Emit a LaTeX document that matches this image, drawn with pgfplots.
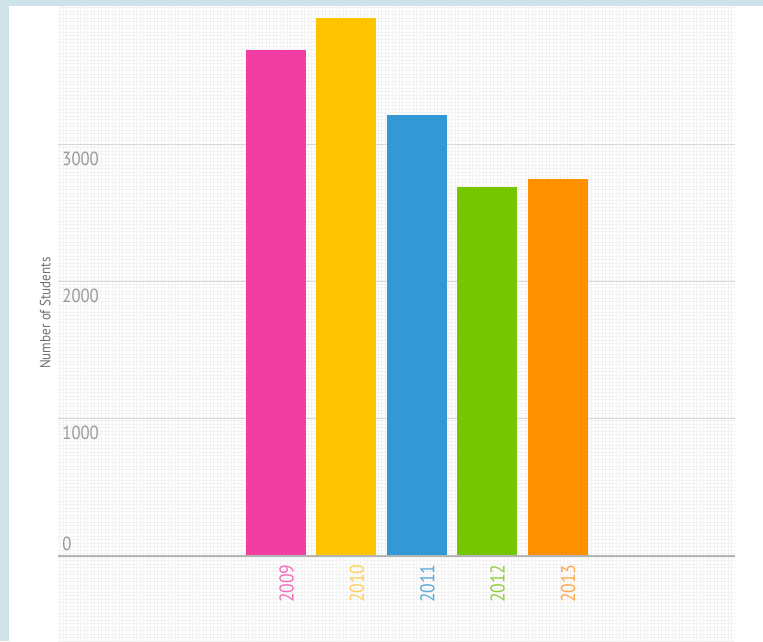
\documentclass[border=0pt]{standalone}
\usepackage{fontspec}
\setmainfont[FakeStretch=0.88]{PT Sans}
\usepackage{pgfplots}
\pgfplotsset{compat=1.18}
\definecolor{bgblue}{HTML}{CFE2EA}
\definecolor{cpink}{HTML}{F23DA3}
\definecolor{cyellow}{HTML}{FFC400}
\definecolor{cblue}{HTML}{3399D4}
\definecolor{cgreen}{HTML}{77C401}
\definecolor{corange}{HTML}{FF9000}
\definecolor{lpink}{HTML}{F46DBA}
\definecolor{lyellow}{HTML}{FFCF5E}
\definecolor{lblue}{HTML}{5DAADB}
\definecolor{lgreen}{HTML}{8FCF3C}
\definecolor{lorange}{HTML}{FFA94D}
\definecolor{gridc}{HTML}{D8D8D8}
\definecolor{zeroc}{HTML}{B4B4B4}
\definecolor{tickc}{HTML}{999999}
\definecolor{labc}{HTML}{707070}
\definecolor{patc}{HTML}{F2F2F2}
\begin{document}
\begin{tikzpicture}
% background and panel (1px = 0.5pt)
\fill[bgblue] (0,0) rectangle (381.5pt,320.5pt);
\fill[white] (4.5pt,0) rectangle (381.5pt,317.5pt);
% faint texture region
\begin{scope}
\clip (29pt,0) rectangle (367.5pt,317.5pt);
\draw[patc, line width=0.25pt, step=1.75pt] (29pt,0) grid (367.5pt,317.5pt);
\end{scope}
\begin{axis}[
  at={(29pt,42.75pt)}, anchor=south west,
  scale only axis,
  width=338.5pt, height=274.75pt,
  xmin=-3.097, xmax=6.52,
  ymin=0, ymax=4008,
  enlargelimits=false,
  clip=false,
  axis line style={draw=none},
  tick style={draw=none},
  ybar, bar width=30pt,
  xtick={0,1,2,3,4},
  xticklabels={\textcolor{lpink}{2009},\textcolor{lyellow}{2010},\textcolor{lblue}{2011},\textcolor{lgreen}{2012},\textcolor{lorange}{2013}},
  xticklabel style={rotate=90, anchor=east, inner sep=0pt, yshift=-5.25pt, font=\fontsize{10}{11}\selectfont},
  ytick={0,1000,2000,3000},
  yticklabels={,1000,2000,3000},
  yticklabel style={anchor=north west, inner sep=0pt, xshift=2pt, yshift=-3.5pt, text=tickc, font=\fontsize{9.5}{10}\selectfont},
  yticklabel pos=left,
  ymajorgrids,
  grid style={gridc, line width=0.5pt},
  ylabel={Number of Students},
  ylabel style={at={(axis description cs:-0.019,0.441)}, anchor=center, text=labc, font=\fontsize{7.4}{8}\selectfont},
]
\addplot[fill=cpink, draw=none, bar shift=0pt] coordinates {(0,3690)};
\addplot[fill=cyellow, draw=none, bar shift=0pt] coordinates {(1,3920)};
\addplot[fill=cblue, draw=none, bar shift=0pt] coordinates {(2,3210)};
\addplot[fill=cgreen, draw=none, bar shift=0pt] coordinates {(3,2690)};
\addplot[fill=corange, draw=none, bar shift=0pt] coordinates {(4,2745)};
\draw[zeroc, line width=1pt] (rel axis cs:0,0) -- (rel axis cs:1,0);
\node[anchor=south west, inner sep=0pt, text=tickc, font=\fontsize{9.5}{10}\selectfont] at ([xshift=2pt,yshift=2pt]rel axis cs:0,0) {0};
\end{axis}
\pgfresetboundingbox
\path[use as bounding box] (0,0) rectangle (381.5pt,320.5pt);
\end{tikzpicture}
\end{document}
